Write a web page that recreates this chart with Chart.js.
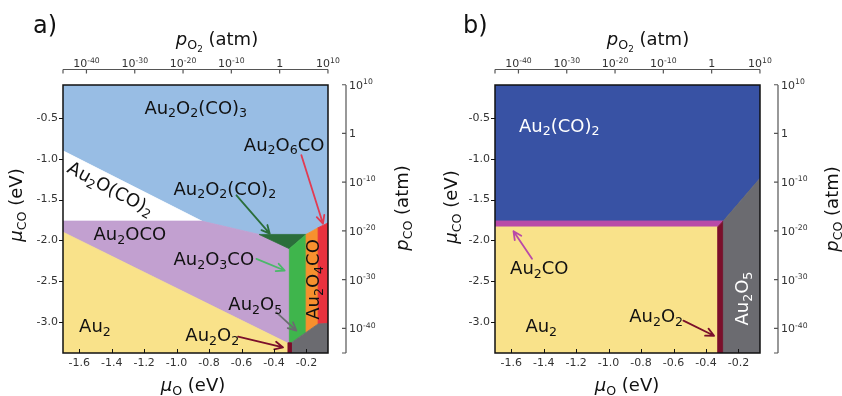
<!DOCTYPE html>
<html>
<head>
<meta charset="utf-8">
<script src="https://cdn.jsdelivr.net/npm/chart.js@4.4.1/dist/chart.umd.min.js"></script>
<style>
  html, body { margin: 0; padding: 0; background: #fff; }
  #wrap { position: relative; width: 842px; height: 396px; }
  canvas { position: absolute; top: 0; }
  #panelA { left: 0; }
  #panelB { left: 421px; }
</style>
</head>
<body>
<div id="wrap">
  <canvas id="panelA" width="421" height="396"></canvas>
  <canvas id="panelB" width="421" height="396"></canvas>
</div>
<script>
// Axis ranges (eV) and tick values
const muORange  = [-1.70, -0.067];
const muCORange = [-3.375, -0.10];
const muOTicks  = [-1.6, -1.4, -1.2, -1.0, -0.8, -0.6, -0.4, -0.2];
const muCOTicks = [-3.0, -2.5, -2.0, -1.5, -1.0, -0.5];
const pO2Ticks  = [-40, -30, -20, -10, 0, 10];   // log10 of p_O2 / atm
const pCOTicks  = [-40, -30, -20, -10, 0, 10];   // log10 of p_CO / atm

// Chemical potential <-> pressure at 300 K
const kT = 0.025852;
const muO_1atm  = -0.365;
const muCO_1atm = -0.692;
const logPO2 = mu => 2 * (mu - muO_1atm) / (kT * Math.LN10);
const logPCO = mu => (mu - muCO_1atm) / (kT * Math.LN10);

// Panel a: stability regions, vertices as (mu_O, mu_CO) in eV
const a_Au2O2CO3 = [[-1.70,-0.10],[-0.067,-0.10],[-0.067,-1.785],[-0.128,-1.844],[-0.202,-1.926],[-0.492,-1.926],[-0.845,-1.763],[-1.70,-0.905]];
const a_Au2OCO2  = [[-1.70,-0.905],[-0.845,-1.763],[-1.70,-1.763]];
const a_Au2OCO   = [[-1.70,-1.763],[-0.845,-1.763],[-0.492,-1.926],[-0.305,-2.101],[-0.305,-3.25],[-0.314,-3.256],[-1.70,-1.898]];
const a_Au2      = [[-1.70,-1.898],[-0.314,-3.256],[-0.314,-3.375],[-1.70,-3.375]];
const a_Au2O2CO2 = [[-0.492,-1.926],[-0.202,-1.926],[-0.305,-2.101]];
const a_Au2O3CO  = [[-0.305,-2.101],[-0.202,-1.926],[-0.202,-3.123],[-0.293,-3.25],[-0.305,-3.25]];
const a_Au2O4CO  = [[-0.202,-1.926],[-0.128,-1.844],[-0.128,-3.02],[-0.202,-3.123]];
const a_Au2O6CO  = [[-0.128,-1.844],[-0.067,-1.785],[-0.067,-3.013],[-0.128,-3.02]];
const a_Au2O5    = [[-0.293,-3.25],[-0.202,-3.123],[-0.128,-3.02],[-0.067,-3.013],[-0.067,-3.375],[-0.293,-3.375]];
const a_Au2O2    = [[-0.314,-3.25],[-0.293,-3.25],[-0.293,-3.375],[-0.314,-3.375]];

// Panel b: stability regions
const b_Au2CO2 = [[-1.70,-0.10],[-0.067,-0.10],[-0.067,-1.24],[-0.293,-1.761],[-1.70,-1.761]];
const b_Au2CO  = [[-1.70,-1.761],[-0.293,-1.761],[-0.328,-1.834],[-1.70,-1.834]];
const b_Au2    = [[-1.70,-1.834],[-0.328,-1.834],[-0.328,-3.375],[-1.70,-3.375]];
const b_Au2O2  = [[-0.328,-1.834],[-0.293,-1.761],[-0.293,-3.375],[-0.328,-3.375]];
const b_Au2O5  = [[-0.293,-1.761],[-0.067,-1.24],[-0.067,-3.375],[-0.293,-3.375]];

const FONT = '"DejaVu Sans", sans-serif';
Chart.defaults.font.family = FONT;
Chart.defaults.color = '#333';

function region(poly, color) {
  const pts = poly.map(([x, y]) => ({ x, y }));
  pts.push({ x: poly[0][0], y: poly[0][1] });
  return {
    data: pts, showLine: true, fill: 'shape', tension: 0,
    backgroundColor: color, borderColor: color, borderWidth: 0.8,
    pointRadius: 0, pointHoverRadius: 0
  };
}

// "Au_2O_2(CO)_3" -> segments with subscript levels
function formula(s) {
  const out = [];
  let i = 0;
  while (i < s.length) {
    if (s[i] === '_') { out.push({ t: s[i + 1], lv: 1 }); i += 2; }
    else {
      let j = i;
      while (j < s.length && s[j] !== '_') j++;
      out.push({ t: s.slice(i, j), lv: 0 });
      i = j;
    }
  }
  return out;
}

// Text with sub-/superscripts; (x, y) is the anchor, y at the cap-height centre
function drawRich(ctx, segs, x, y, size, color, rotDeg, align) {
  ctx.save();
  ctx.translate(x, y);
  ctx.rotate((rotDeg || 0) * Math.PI / 180);
  ctx.fillStyle = color;
  ctx.textBaseline = 'alphabetic';
  ctx.textAlign = 'left';
  const parts = segs.map(s => {
    const lv = s.lv || 0;
    const fs = size * Math.pow(0.7, Math.abs(lv));
    const font = (s.it ? 'italic ' : '') + fs.toFixed(2) + 'px ' + FONT;
    ctx.font = font;
    return { t: s.t, lv, font, w: ctx.measureText(s.t).width };
  });
  const W = parts.reduce((a, p) => a + p.w, 0);
  let cx = align === 'left' ? 0 : -W / 2;
  const base = size * 0.36;
  for (const p of parts) {
    let dy = 0;
    if (p.lv === 1) dy = size * 0.2;
    else if (p.lv === 2) dy = size * 0.34;
    else if (p.lv === -1) dy = -size * 0.42;
    ctx.font = p.font;
    ctx.fillText(p.t, cx, base + dy);
    cx += p.w;
  }
  ctx.restore();
}

function drawArrow(ctx, x1, y1, x2, y2, color) {
  ctx.save();
  ctx.strokeStyle = color;
  ctx.lineWidth = 1.8;
  ctx.lineCap = 'round';
  ctx.lineJoin = 'round';
  const a = Math.atan2(y2 - y1, x2 - x1), h = 9, s = 0.45;
  ctx.beginPath();
  ctx.moveTo(x1, y1); ctx.lineTo(x2, y2);
  ctx.moveTo(x2 - h * Math.cos(a - s), y2 - h * Math.sin(a - s));
  ctx.lineTo(x2, y2);
  ctx.lineTo(x2 - h * Math.cos(a + s), y2 - h * Math.sin(a + s));
  ctx.stroke();
  ctx.restore();
}

// 10^n tick label as segments
const powSegs = v => v === 0 ? [{ t: '1' }] : [{ t: '10' }, { t: String(v), lv: -1 }];

const TITLE_MU_CO = [{ t: '\u03BC', it: 1 }, { t: 'CO', lv: 1 }, { t: ' (eV)' }];
const TITLE_MU_O  = [{ t: '\u03BC', it: 1 }, { t: 'O', lv: 1 }, { t: ' (eV)' }];
const TITLE_P_O2  = [{ t: 'p', it: 1 }, { t: 'O', lv: 1 }, { t: '2', lv: 2 }, { t: ' (atm)' }];
const TITLE_P_CO  = [{ t: 'p', it: 1 }, { t: 'CO', lv: 1 }, { t: ' (atm)' }];

function decorations(cfg) {
  return {
    id: 'decor',
    afterDatasetsDraw(chart) {
      const { ctx, chartArea: ca, scales } = chart;
      const X = v => scales.x.getPixelForValue(v);
      const Y = v => scales.y.getPixelForValue(v);

      for (const [x1, y1, x2, y2, col] of cfg.arrows) drawArrow(ctx, X(x1), Y(y1), X(x2), Y(y2), col);
      for (const [txt, mx, my, rot, col] of cfg.labels) drawRich(ctx, formula(txt), X(mx), Y(my), 18, col || '#111', rot);

      ctx.save();
      // frame
      ctx.strokeStyle = '#111';
      ctx.lineWidth = 1.5;
      ctx.strokeRect(ca.left, ca.top, ca.right - ca.left, ca.bottom - ca.top);
      // bottom ticks (inward) and left ticks (outward)
      ctx.lineWidth = 1;
      ctx.beginPath();
      for (const v of muOTicks) { const px = Math.round(X(v)) + 0.5; ctx.moveTo(px, ca.bottom); ctx.lineTo(px, ca.bottom - 4); }
      for (const v of muCOTicks) { const py = Math.round(Y(v)) + 0.5; ctx.moveTo(ca.left, py); ctx.lineTo(ca.left - 4, py); }
      ctx.stroke();

      // detached top axis (p_O2) and right axis (p_CO)
      ctx.strokeStyle = '#555';
      ctx.lineWidth = 1.2;
      const ty = ca.top - 15.5, rx = ca.right + 18;
      ctx.beginPath();
      ctx.moveTo(ca.left, ty); ctx.lineTo(ca.right, ty);
      ctx.moveTo(ca.left, ty); ctx.lineTo(ca.left, ty + 4);
      for (const v of pO2Ticks) { const px = scales.x2.getPixelForValue(v); ctx.moveTo(px, ty); ctx.lineTo(px, ty + 4); }
      ctx.moveTo(rx, ca.top); ctx.lineTo(rx, ca.bottom);
      ctx.moveTo(rx, ca.bottom); ctx.lineTo(rx - 4, ca.bottom);
      for (const v of pCOTicks) { const py = scales.y2.getPixelForValue(v); ctx.moveTo(rx, py); ctx.lineTo(rx - 4, py); }
      ctx.stroke();
      ctx.restore();

      // pressure tick labels
      for (const v of pO2Ticks) drawRich(ctx, powSegs(v), scales.x2.getPixelForValue(v), ty - 6, 11, '#333', 0);
      for (const v of pCOTicks) drawRich(ctx, powSegs(v), rx + 3, scales.y2.getPixelForValue(v), 11, '#333', 0, 'left');

      // axis titles and panel letter
      const T = cfg.titles;
      drawRich(ctx, TITLE_MU_CO, T.left[0], T.left[1], 18, '#111', -90);
      drawRich(ctx, TITLE_P_CO, T.right[0], T.right[1], 18, '#111', -90);
      drawRich(ctx, TITLE_P_O2, T.top[0], T.top[1], 18, '#111', 0);
      drawRich(ctx, TITLE_MU_O, T.bottom[0], T.bottom[1], 18, '#111', 0);
      ctx.save();
      ctx.fillStyle = '#111';
      ctx.font = '24px ' + FONT;
      ctx.textBaseline = 'alphabetic';
      ctx.fillText(cfg.letter, T.letter[0], T.letter[1]);
      ctx.restore();
    }
  };
}

function makeChart(canvas, datasets, cfg) {
  datasets.forEach((d, i) => { d.order = datasets.length - i; });
  const tickFont = { size: 11 };
  return new Chart(canvas, {
    type: 'scatter',
    data: { datasets },
    options: {
      responsive: false, animation: false, events: [],
      layout: { padding: 0 },
      plugins: { legend: { display: false }, tooltip: { enabled: false } },
      scales: {
        x: {
          type: 'linear', position: 'bottom', min: muORange[0], max: muORange[1],
          grid: { display: false, drawTicks: false }, border: { display: false },
          afterBuildTicks: s => { s.ticks = muOTicks.map(v => ({ value: v })); },
          afterFit: s => { s.height = cfg.sizes.bottom; },
          ticks: { callback: v => v.toFixed(1), padding: 4, font: tickFont, autoSkip: false, maxRotation: 0, minRotation: 0 }
        },
        y: {
          type: 'linear', position: 'left', min: muCORange[0], max: muCORange[1],
          grid: { display: false, drawTicks: false }, border: { display: false },
          afterBuildTicks: s => { s.ticks = muCOTicks.map(v => ({ value: v })); },
          afterFit: s => { s.width = cfg.sizes.left; },
          ticks: { callback: v => v.toFixed(1), padding: 5, font: tickFont, autoSkip: false }
        },
        x2: {
          type: 'linear', position: 'top', min: logPO2(muORange[0]), max: logPO2(muORange[1]),
          grid: { display: false, drawTicks: false }, border: { display: false },
          afterBuildTicks: s => { s.ticks = pO2Ticks.map(v => ({ value: v })); },
          afterFit: s => { s.height = cfg.sizes.top; },
          ticks: { display: false }
        },
        y2: {
          type: 'linear', position: 'right', min: logPCO(muCORange[0]), max: logPCO(muCORange[1]),
          grid: { display: false, drawTicks: false }, border: { display: false },
          afterBuildTicks: s => { s.ticks = pCOTicks.map(v => ({ value: v })); },
          afterFit: s => { s.width = cfg.sizes.right; },
          ticks: { display: false }
        }
      }
    },
    plugins: [decorations(cfg)]
  });
}

// Panel a
makeChart(document.getElementById('panelA'), [
  region(a_Au2O2CO3, '#98bde4'),
  region(a_Au2OCO2,  '#ffffff'),
  region(a_Au2OCO,   '#c2a0d0'),
  region(a_Au2,      '#f9e28a'),
  region(a_Au2O2CO2, '#2b6e3b'),
  region(a_Au2O3CO,  '#3fb54c'),
  region(a_Au2O4CO,  '#f7902e'),
  region(a_Au2O6CO,  '#e9323e'),
  region(a_Au2O5,    '#6b6b70'),
  region(a_Au2O2,    '#7b0f2b')
], {
  letter: 'a)',
  sizes: { left: 63, right: 93, top: 85, bottom: 43 },
  titles: { left: [16, 205], right: [402, 208], top: [217, 39], bottom: [193, 385], letter: [33, 33] },
  labels: [
    ['Au_2O_2(CO)_3', -0.882, -0.370, 0],
    ['Au_2O_6CO',     -0.337, -0.823, 0],
    ['Au_2O_2(CO)_2', -0.703, -1.362, 0],
    ['Au_2O(CO)_2',   -1.405, -1.360, 28],
    ['Au_2OCO',       -1.288, -1.914, 0],
    ['Au_2O_3CO',     -0.771, -2.220, 0],
    ['Au_2O_4CO',     -0.160, -2.477, -90],
    ['Au_2O_5',       -0.515, -2.772, 0],
    ['Au_2O_2',       -0.780, -3.149, 0],
    ['Au_2',          -1.503, -3.041, 0]
  ],
  arrows: [
    [-0.231, -0.958, -0.098, -1.795, '#e23b52'],
    [-0.631, -1.448, -0.426, -1.917, '#2b6e3b'],
    [-0.508, -2.224, -0.334, -2.367, '#4bb86a'],
    [-0.385, -2.878, -0.262, -3.102, '#6b6b70'],
    [-0.621, -3.174, -0.344, -3.307, '#7b0f2b']
  ]
});

// Panel b
makeChart(document.getElementById('panelB'), [
  region(b_Au2CO2, '#3852a4'),
  region(b_Au2CO,  '#b94aa8'),
  region(b_Au2,    '#f9e28a'),
  region(b_Au2O2,  '#7b0f2b'),
  region(b_Au2O5,  '#6b6b70')
], {
  letter: 'b)',
  sizes: { left: 74, right: 82, top: 85, bottom: 43 },
  titles: { left: [30, 207], right: [411, 209], top: [227, 39], bottom: [206, 385], letter: [42, 33] },
  labels: [
    ['Au_2(CO)_2', -1.304, -0.590, 0, '#ffffff'],
    ['Au_2CO',     -1.427, -2.330, 0],
    ['Au_2',       -1.415, -3.041, 0],
    ['Au_2O_2',    -0.707, -2.919, 0],
    ['Au_2O_5',    -0.180, -2.710, -90, '#ffffff']
  ],
  arrows: [
    [-1.472, -2.224, -1.586, -1.886, '#b94aa8'],
    [-0.539, -2.980, -0.350, -3.164, '#7b0f2b']
  ]
});
</script>
</body>
</html>
